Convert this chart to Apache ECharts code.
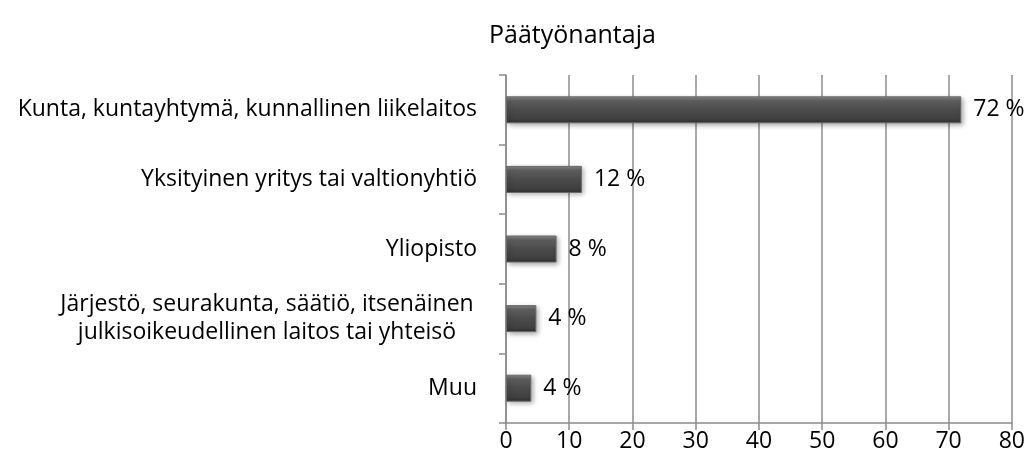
<!DOCTYPE html>
<html>
	<head>
		<meta charset="utf-8">
		<title>Päätyönantaja</title>
		<script src="https://cdn.jsdelivr.net/npm/echarts@6/dist/echarts.min.js"></script>
		<style>
			html, body { margin: 0; padding: 0; background: #fff; }
			#main { width: 1028px; height: 465px; }
		</style>
	</head>
	<body>
		<div id="main"></div>
		<script>
			// data, top to bottom as in the picture
			var categories = [
				'Kunta, kuntayhtymä, kunnallinen liikelaitos',
				'Yksityinen yritys tai valtionyhtiö',
				'Yliopisto',
				'Järjestö, seurakunta, säätiö, itsenäinen\njulkisoikeudellinen laitos tai yhteisö',
				'Muu'
			];
			var values = [72, 12, 8, 4.8, 4];
			var valueLabels = ['72 %', '12 %', '8 %', '4 %', '4 %'];
			var xTicks = [0, 10, 20, 30, 40, 50, 60, 70, 80];

			var font = 'Open Sans';
			var gray = '#8c8c8c';

			var myChart = echarts.init(document.getElementById('main'));
			var option = {
				animation: false,
				title: {
					text: 'Päätyönantaja',
					left: 484,
					top: 18,
					textStyle: { fontFamily: font, fontSize: 25, fontWeight: 'normal', color: '#000' }
				},
				grid: { left: 506, right: 12, top: 75, bottom: 42, containLabel: false },
				xAxis: {
					type: 'value',
					min: xTicks[0],
					max: xTicks[xTicks.length - 1],
					interval: 10,
					axisLine: { show: true, lineStyle: { color: gray, width: 1.5 } },
					axisTick: { show: true, length: 7, lineStyle: { color: gray, width: 1.5 } },
					splitLine: { show: true, lineStyle: { color: gray, width: 1.5 } },
					axisLabel: { fontFamily: font, fontSize: 23, color: '#000', margin: 7 }
				},
				yAxis: {
					type: 'category',
					inverse: true,
					data: categories,
					axisLine: { show: true, lineStyle: { color: gray, width: 1.5 } },
					axisTick: { show: true, length: 7, lineStyle: { color: gray, width: 1.5 } },
					axisLabel: {
						fontFamily: font, fontSize: 23, color: '#000', margin: 29, lineHeight: 28, align: 'right',
						// two-line label is centred line by line, like in the original
						formatter: function (v) {
							if (v.indexOf('\n') < 0) return v;
							return v.split('\n').map(function (s) { return '{c|' + s + '}'; }).join('\n');
						},
						rich: {
							c: { fontFamily: font, fontSize: 23, color: '#000', lineHeight: 28, width: 420, align: 'center' }
						}
					}
				},
				series: [{
					type: 'bar',
					data: values,
					barWidth: 27,
					itemStyle: {
						color: new echarts.graphic.LinearGradient(0, 0, 0, 1, [
							{ offset: 0, color: '#8a8a8a' },
							{ offset: 0.18, color: '#5e5e5e' },
							{ offset: 0.5, color: '#4b4b4b' },
							{ offset: 0.85, color: '#404040' },
							{ offset: 1, color: '#2c2c2c' }
						]),
						borderColor: '#6a6a6a',
						borderWidth: 1,
						shadowBlur: 5,
						shadowOffsetX: 2,
						shadowOffsetY: 2,
						shadowColor: 'rgba(0,0,0,0.35)'
					},
					label: {
						show: true,
						position: 'right',
						distance: 12,
						fontFamily: font,
						fontSize: 23,
						color: '#000',
						formatter: function (p) { return valueLabels[p.dataIndex]; }
					}
				}]
			};
			myChart.setOption(option);
		</script>
	</body>
</html>
